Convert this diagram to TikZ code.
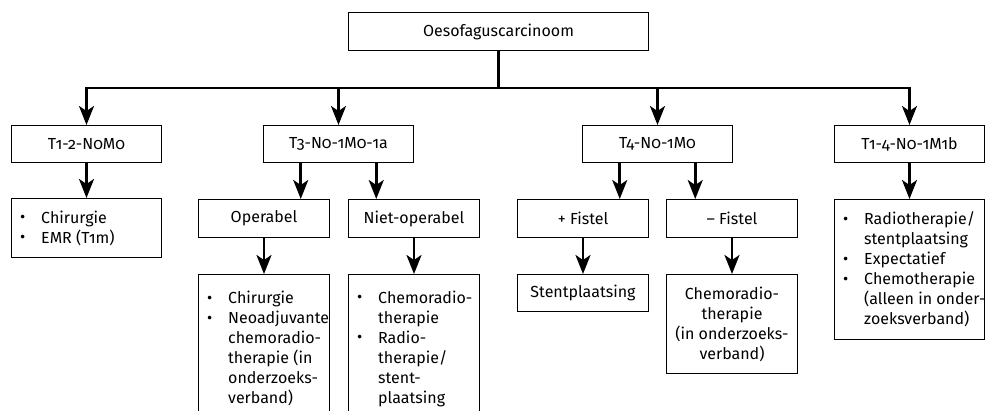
\documentclass[tikz,border=0pt]{standalone}
\usepackage{fontspec}
\setmainfont{Fira Sans}[Numbers=OldStyle]
\usetikzlibrary{arrows.meta,calc}
\newcommand{\bu}{\makebox[21pt][l]{\raisebox{0.3pt}{\fontsize{16}{16}\selectfont •}}}
\newcommand{\ind}{\hspace*{21pt}}
\begin{document}
\begin{tikzpicture}[x=1pt,y=-1pt,
  box/.style={draw, line width=1pt, inner sep=0pt, anchor=north west, font=\fontsize{16}{20}\selectfont},
  conn/.style={line width=2.6pt, -{Stealth[length=19pt,width=15pt,inset=5pt]}},
  lst/.style={anchor=west, inner sep=0pt, font=\fontsize{16}{20}\selectfont, align=left},
  ctr/.style={inner sep=0pt, font=\fontsize{16}{20}\selectfont, align=center}]
\clip (0,0) rectangle (986,410);
% level 0
\node[box, minimum width=300pt, minimum height=38pt] (root) at (348,12) {Oesofaguscarcinoom};
% level 1
\node[box, minimum width=150pt, minimum height=37pt] (t12) at (11,125) {T1-2-N0M0};
\node[box, minimum width=150pt, minimum height=37pt] (t3) at (263,125) {T3-N0-1M0-1a};
\node[box, minimum width=150pt, minimum height=37pt] (t4) at (582,125) {T4-N0-1M0};
\node[box, minimum width=150pt, minimum height=37pt] (t14) at (834,125) {T1-4-N0-1M1b};
% level 2
\node[box, minimum width=131pt, minimum height=38pt] (op) at (198,199) {Operabel};
\node[box, minimum width=131pt, minimum height=38pt] (nop) at (348,199) {Niet-operabel};
\node[box, minimum width=131pt, minimum height=38pt] (pf) at (517,199) {+ Fistel};
\node[box, minimum width=131pt, minimum height=38pt] (mf) at (666,199) {– Fistel};
\node[box, minimum width=150pt, minimum height=59pt] (t12l) at (11,198) {};
\node[box, minimum width=150pt, minimum height=140pt] (t14l) at (834,199) {};
% level 3
\node[box, minimum width=131pt, minimum height=148pt] (opl) at (198,274) {};
\node[box, minimum width=131pt, minimum height=148pt] (nopl) at (348,274) {};
\node[box, minimum width=131pt, minimum height=37pt] (st) at (517,274) {Stentplaatsing};
\node[box, minimum width=131pt, minimum height=99pt, align=center] (mfl) at (666,274) {Chemoradio-\\therapie\\(in onderzoeks-\\verband)};
% list texts
\node[lst] (t12t) at ($(t12l.west)+(9,0)$) {\bu Chirurgie\\\bu EMR (T1m)};
\node[lst] (t14t) at ($(t14l.west)+(9,0)$) {\bu Radiotherapie/\\\ind stentplaatsing\\\bu Expectatief\\\bu Chemotherapie\\\ind (alleen in onder-\\\ind zoeksverband)};
\node[lst] (opt) at ($(opl.west)+(9,0)$) {\bu Chirurgie\\\bu Neoadjuvante\\\ind chemoradio-\\\ind therapie (in\\\ind onderzoeks-\\\ind verband)};
\node[lst] (nopt) at ($(nopl.west)+(9,0)$) {\bu Chemoradio-\\\ind therapie\\\bu Radio-\\\ind therapie/\\\ind stent-\\\ind plaatsing};
% connectors level 0 -> 1
\coordinate (hub) at ($(root.south)+(0,37)$);
\draw[conn] (root.south) -- (hub) -| (t12.north);
\draw[conn] (root.south) -- (hub) -| (t3.north);
\draw[conn] (root.south) -- (hub) -| (t4.north);
\draw[conn] (root.south) -- (hub) -| (t14.north);
% level 1 -> 2
\coordinate (t3a) at ($(t3.south west)!.25!(t3.south east)$);
\coordinate (t3b) at ($(t3.south west)!.75!(t3.south east)$);
\coordinate (t4a) at ($(t4.south west)!.25!(t4.south east)$);
\coordinate (t4b) at ($(t4.south west)!.75!(t4.south east)$);
\draw[conn] (t12.south) -- (t12l.north);
\draw[conn] (t3a) -- (t3a |- op.north);
\draw[conn] (t3b) -- (t3b |- nop.north);
\draw[conn] (t4a) -- (t4a |- pf.north);
\draw[conn] (t4b) -- (t4b |- mf.north);
\draw[conn] (t14.south) -- (t14l.north);
% level 2 -> 3
\draw[conn] (op.south) -- (opl.north);
\draw[conn] (nop.south) -- (nopl.north);
\draw[conn] (pf.south) -- (st.north);
\draw[conn] (mf.south) -- (mfl.north);
\end{tikzpicture}
\end{document}
